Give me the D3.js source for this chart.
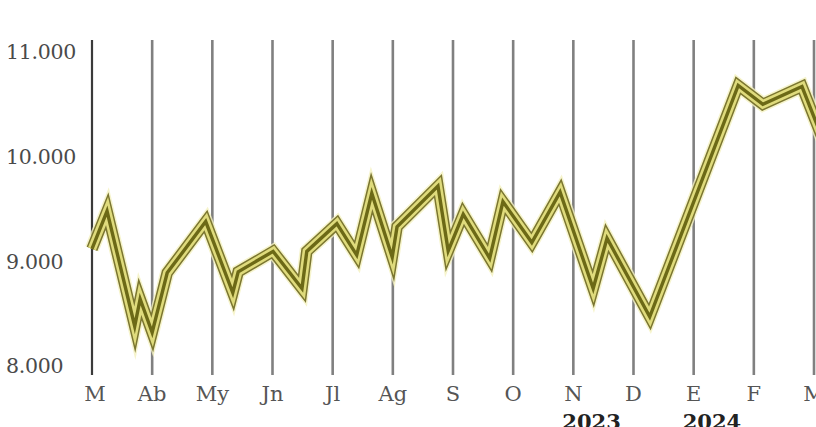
<!DOCTYPE html>
<html>
<head>
<meta charset="utf-8">
<script src="https://cdn.jsdelivr.net/npm/d3@7"></script>
<style>
  html, body { margin: 0; padding: 0; background: #fff; overflow: hidden; }
  svg { display: block; }
</style>
</head>
<body>
<svg id="chart" width="816" height="427"></svg>
<script>
// ---- data ----
const monthLabels = ["M", "Ab", "My", "Jn", "Jl", "Ag", "S", "O", "N", "D", "E", "F", "M"];
const yearLabels = [{ label: "2023", month: 8 }, { label: "2024", month: 10 }];
const yTicks = [8000, 9000, 10000, 11000];
// position in months since March 2023, and value
const pointMonth = [0.00, 0.25, 0.71, 0.80, 1.00, 1.25, 1.89, 2.34, 2.43, 3.01, 3.49, 3.57, 4.07, 4.40, 4.65, 4.99, 5.07, 5.75, 5.92, 6.17, 6.61, 6.83, 7.31, 7.78, 8.33, 8.56, 9.27, 10.74, 11.15, 11.80, 12.26];
const pointValue = [9120, 9480, 8380, 8640, 8320, 8890, 9380, 8700, 8900, 9095, 8740, 9095, 9360, 9060, 9650, 9040, 9330, 9720, 9100, 9450, 9030, 9570, 9180, 9660, 8740, 9220, 8470, 10680, 10500, 10670, 10000];

const svg = d3.select("#chart");
const x = d3.scaleLinear().domain([0, 12]).range([92, 814]);
const y = d3.scaleLinear().domain([8000, 11000]).range([366, 52]);

// vertical month lines
svg.append("g").selectAll("line")
  .data(monthLabels.map((d, i) => i))
  .join("line")
  .attr("x1", d => x(d)).attr("x2", d => x(d))
  .attr("y1", 40).attr("y2", 375)
  .attr("stroke", (d) => d === 0 ? "#3a3a3a" : "#808080")
  .attr("stroke-width", d => d === 0 ? 2.2 : 2.6);

// y tick labels
svg.append("g").selectAll("text")
  .data(yTicks)
  .join("text")
  .attr("x", 6)
  .attr("y", d => y(d))
  .attr("dy", "0.36em")
  .attr("font-family", "DejaVu Serif")
  .attr("font-size", 20.5)
  .attr("fill", "#4a4a4a")
  .attr("letter-spacing", -0.3)
  .text(d => d3.format(",")(d).replace(/,/g, "."));

// month labels
svg.append("g").selectAll("text")
  .data(monthLabels)
  .join("text")
  .attr("x", (d, i) => x(i) + (i === 0 ? 3 : 0))
  .attr("y", 401)
  .attr("text-anchor", "middle")
  .attr("font-family", "DejaVu Serif")
  .attr("font-size", 21)
  .attr("fill", "#555")
  .text(d => d);

// year labels
svg.append("g").selectAll("text")
  .data(yearLabels)
  .join("text")
  .attr("x", d => x(d.month) - 11)
  .attr("y", 429)
  .attr("font-family", "DejaVu Serif")
  .attr("font-weight", "bold")
  .attr("font-size", 21)
  .attr("fill", "#222")
  .text(d => d.label);

// the line, drawn as layered strokes
const pts = pointMonth.map((m, i) => [m, pointValue[i]]);
const line = d3.line().x(d => x(d[0])).y(d => y(d[1]));
const layers = [
  { w: 14.5, c: "#f4f1bf", o: 0.8 },
  { w: 11.5, c: "#7b7630", o: 1 },
  { w: 8.5, c: "#dfdb7c", o: 1 },
  { w: 3.4, c: "#6c6916", o: 1 }
];
svg.append("g").selectAll("path")
  .data(layers)
  .join("path")
  .attr("d", line(pts))
  .attr("fill", "none")
  .attr("stroke", d => d.c)
  .attr("stroke-opacity", d => d.o)
  .attr("stroke-width", d => d.w)
  .attr("stroke-linejoin", "miter")
  .attr("stroke-miterlimit", 14);
</script>
</body>
</html>
